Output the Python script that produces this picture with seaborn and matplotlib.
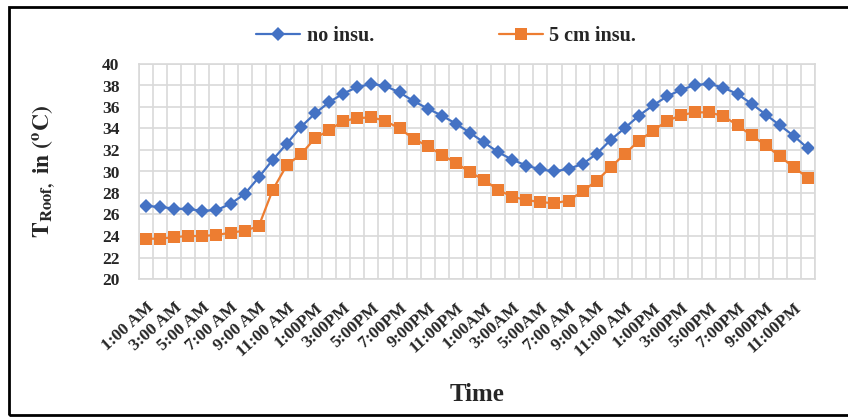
#!/usr/bin/env python3
import pandas as pd
import seaborn as sns
import matplotlib as mpl
import matplotlib.pyplot as plt
from matplotlib.patches import Rectangle
from matplotlib.ticker import MultipleLocator

sns.set_theme(style="white")
mpl.rcParams["font.family"] = ["Liberation Serif", "DejaVu Serif"]
mpl.rcParams["font.weight"] = "bold"
mpl.rcParams["mathtext.fontset"] = "stix"

# roof temperature, hourly, two days
no_insu = [26.8, 26.7, 26.55, 26.5, 26.35, 26.4, 27.0, 27.9, 29.45, 31.1, 32.6,
           34.15, 35.4, 36.45, 37.25, 37.85, 38.15, 37.95, 37.35, 36.55, 35.85,
           35.2, 34.45, 33.6, 32.7, 31.8, 31.1, 30.55, 30.2, 30.0, 30.25, 30.7,
           31.65, 32.95, 34.05, 35.2, 36.15, 37.0, 37.6, 38.05, 38.15, 37.8,
           37.2, 36.3, 35.3, 34.3, 33.3, 32.15]
insu_5cm = [23.75, 23.75, 23.9, 24.0, 24.0, 24.1, 24.3, 24.5, 24.9, 28.3, 30.6,
            31.6, 33.1, 33.85, 34.7, 34.95, 35.05, 34.7, 34.0, 33.05, 32.35,
            31.55, 30.8, 29.95, 29.2, 28.3, 27.65, 27.35, 27.15, 27.05, 27.3,
            28.15, 29.15, 30.4, 31.65, 32.85, 33.8, 34.7, 35.25, 35.5, 35.5,
            35.15, 34.3, 33.35, 32.45, 31.4, 30.4, 29.4]
tick_labels = ["1:00 AM", "3:00 AM", "5:00 AM", "7:00 AM", "9:00 AM", "11:00 AM",
               "1:00PM", "3:00PM", "5:00PM", "7:00PM", "9:00PM", "11:00PM",
               "1:00AM", "3:00AM", "5:00AM", "7:00 AM", "9:00 AM", "11:00 AM",
               "1:00PM", "3:00PM", "5:00PM", "7:00PM", "9:00PM", "11:00PM"]

hours = list(range(len(no_insu)))
df = pd.DataFrame({"hour": hours, "no insu.": no_insu, "5 cm insu.": insu_5cm})

fig = plt.figure(figsize=(8.48, 4.19), dpi=100)
ax = fig.add_axes([139 / 848, 1 - 279 / 419, (815 - 139) / 848, (279 - 64) / 419])

sns.lineplot(ax=ax, data=df, x="hour", y="no insu.", color="#4472C4", lw=1.6,
             marker="D", markersize=7, markeredgewidth=0, label="no insu.")
sns.lineplot(ax=ax, data=df, x="hour", y="5 cm insu.", color="#ED7D31", lw=1.6,
             marker="s", markersize=9, markeredgewidth=0, label="5 cm insu.")

ax.set_xlim(-0.5, len(hours) - 0.5)
ax.set_ylim(20, 40)
ax.yaxis.set_major_locator(MultipleLocator(2))
ax.set_xticks(hours[::2])
ax.set_xticklabels(tick_labels, rotation=42, ha="right", rotation_mode="anchor",
                   fontsize=12.5, fontweight="bold")
ax.set_xticks([h - 0.5 for h in hours] + [len(hours) - 0.5], minor=True)
for lab in ax.get_yticklabels():
    lab.set_fontsize(12.5)
    lab.set_fontweight("bold")
ax.tick_params(axis="x", which="both", length=0, pad=15)
ax.tick_params(axis="y", which="both", length=0, pad=14)
ax.grid(False)
ax.grid(axis="y", which="major", color="#d9d9d9", lw=1.2)
ax.grid(axis="x", which="minor", color="#d9d9d9", lw=1.2)
for sp in ax.spines.values():
    sp.set_color("#d9d9d9")
    sp.set_linewidth(1.2)

ax.set_xlabel("Time", fontsize=18, fontweight="bold", labelpad=17)
ax.set_ylabel(r"$\mathbf{T_{Roof,}\ in}$ $\mathbf{(^{o}C)}$", fontsize=17, labelpad=32)

ax.legend(loc="center", bbox_to_anchor=(446 / 848, 1 - 36 / 419),
          bbox_transform=fig.transFigure, ncol=2, frameon=False,
          handlelength=2.2, columnspacing=6.2, handletextpad=0.3,
          prop={"size": 14.5, "weight": "bold"})

fig.add_artist(Rectangle((9 / 848, 4 / 419), 1.0, 1 - 11 / 419, transform=fig.transFigure,
                         fill=False, lw=2, edgecolor="black", clip_on=False))

plt.savefig("out.png", dpi=100)
